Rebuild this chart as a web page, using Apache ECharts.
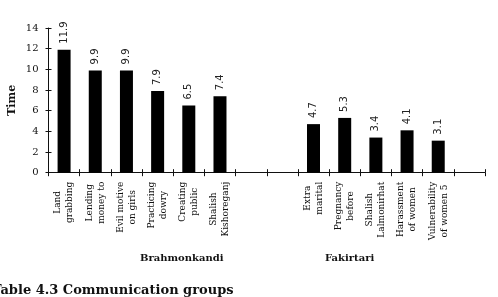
<!DOCTYPE html>
<html>
<head>
<meta charset="utf-8">
<script src="https://cdn.jsdelivr.net/npm/echarts@6/dist/echarts.min.js"></script>
<style>
html,body{margin:0;padding:0;background:#fff;}
#chart{width:498px;height:297px;}
</style>
</head>
<body>
<div id="chart"></div>
<script>
var categories = ['Land\ngrabbing','Lending\nmoney to','Evil motive\non girls','Practicing\ndowry','Creating\npublic','Shalish\nKishoreganj','','','Extra\nmarital','Pregnancy\nbefore','Shalish\nLalmonirhat','Harassment\nof women','Vulnerability\nof women 5',''];
var values = [11.9,9.9,9.9,7.9,6.5,7.4,null,null,4.7,5.3,3.4,4.1,3.1,null];
var yTicks = [0,2,4,6,8,10,12,14];
var groupNames = ['Brahmonkandi','Fakirtari'];
var caption = 'Table 4.3 Communication groups';
var yName = 'Time';

var chart = echarts.init(document.getElementById('chart'), null, {renderer:'canvas'});
var serif = 'DejaVu Serif';
var ink = '#111';
var option = {
  animation:false,
  backgroundColor:'#fff',
  grid: {left:48.5, right:13, top:28, bottom:124.3, containLabel:false, outerBoundsMode:'none'},
  xAxis: [{
    type:'category', data:categories, position:'bottom',
    axisLine:{lineStyle:{color:ink,width:1}},
    axisTick:{show:true, alignWithLabel:false, inside:false, length:3.5, lineStyle:{color:ink}, interval:0},
    axisLabel:{
      interval:0, rotate:90, margin:9, color:ink,
      formatter:function(v){ if(!v) return ''; return v.split('\n').map(function(s){return '{c|'+s+'}';}).join('\n'); },
      rich:{c:{fontFamily:serif,fontSize:9,lineHeight:12,align:'center',color:ink}}
    },
    splitLine:{show:false}
  },{
    type:'category', data:categories, position:'bottom',
    axisLine:{show:false},
    axisTick:{show:true, alignWithLabel:false, inside:true, length:3.5, lineStyle:{color:ink}, interval:0},
    axisLabel:{show:false}, splitLine:{show:false}
  }],
  yAxis: [{
    type:'value', min:yTicks[0], max:yTicks[yTicks.length-1], interval:2, position:'left',
    name:yName, nameLocation:'middle', nameGap:31, nameRotate:90, nameMoveOverlap:false,
    nameTextStyle:{fontFamily:serif,fontSize:11,fontWeight:'bold',color:ink},
    axisLine:{show:true,lineStyle:{color:ink,width:1}},
    axisTick:{show:true,inside:false,length:3,lineStyle:{color:ink}},
    axisLabel:{fontFamily:serif,fontSize:10,color:ink,margin:10},
    splitLine:{show:false}
  },{
    type:'value', min:yTicks[0], max:yTicks[yTicks.length-1], interval:2, position:'left',
    axisLine:{show:false},
    axisTick:{show:true,inside:true,length:3,lineStyle:{color:ink}},
    axisLabel:{show:false}, splitLine:{show:false}
  }],
  series:[{
    type:'bar', data:values, xAxisIndex:0, yAxisIndex:0,
    barWidth:13,
    itemStyle:{color:'#000'},
    label:{show:true, position:'top', distance:6, rotate:90, align:'left', verticalAlign:'middle',
      fontFamily:'DejaVu Sans', fontSize:10, color:'#222',
      formatter:function(p){return p.value.toFixed(1);}}
  }],
  graphic:[
    {type:'text', left:140, top:253, style:{text:groupNames[0], font:'bold 10px "DejaVu Serif"', fill:ink}},
    {type:'text', left:325, top:253, style:{text:groupNames[1], font:'bold 10px "DejaVu Serif"', fill:ink}},
    {type:'text', left:-8, top:284, style:{text:caption, font:'bold 13px "DejaVu Serif"', fill:ink}}
  ]
};
chart.setOption(option);
</script>
</body>
</html>
